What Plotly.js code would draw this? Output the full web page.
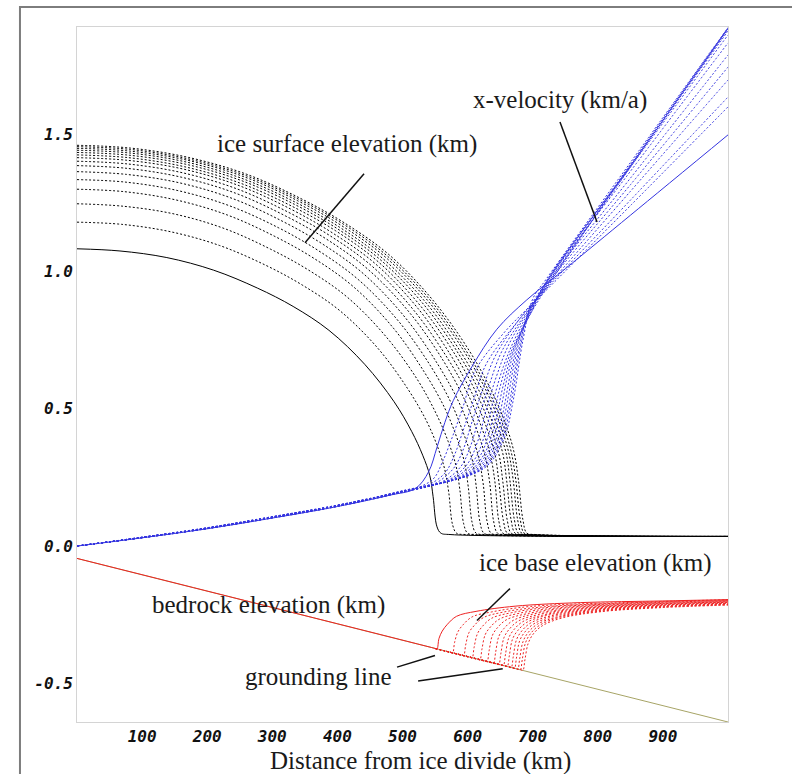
<!DOCTYPE html>
<html>
<head>
<meta charset="utf-8">
<script src="https://cdn.plot.ly/plotly-3.0.1.min.js"></script>
<style>html,body{margin:0;padding:0;background:#fff;}#chart{width:792px;height:774px;}</style>
</head>
<body>
<div id="chart"></div>
<script>
// ---- data ----
const xTickVals = [100, 200, 300, 400, 500, 600, 700, 800, 900];
const yTickVals = [-0.5, 0, 0.5, 1.0, 1.5];
const yTickText = ['-0.5', '0.0', '0.5', '1.0', '1.5'];

// ice surface elevation (km), one profile per time step (first = solid)
const surfaceX = [
 [0,66,138,210,277,332,387,442,487,514,531,542,547,553,559,573,1000],
 [0,69,144,219,289,346,404,462,508,537,554,565,571,577,583,597,1000],
 [0,71,149,226,297,356,416,475,523,552,570,582,588,594,600,614,1000],
 [0,73,152,231,304,364,425,486,534,565,583,595,601,607,613,627,1000],
 [0,74,155,235,310,371,433,495,545,576,594,607,613,619,625,639,1000],
 [0,76,158,239,315,378,441,504,554,586,605,617,624,630,636,650,1000],
 [0,77,160,243,320,384,448,512,563,595,614,627,634,640,646,660,1000],
 [0,78,162,246,324,389,454,518,570,603,622,635,642,648,654,668,1000],
 [0,79,164,249,328,393,459,524,576,609,629,642,648,655,661,675,1000],
 [0,79,165,251,331,397,463,529,582,615,635,648,654,661,667,681,1000],
 [0,80,167,253,334,400,467,534,587,620,640,654,660,667,673,687,1000],
 [0,81,168,255,336,403,470,538,591,625,645,659,665,672,678,692,1000],
 [0,81,169,257,339,406,474,542,596,630,650,663,670,677,683,697,1000],
 [0,82,170,259,341,409,477,545,599,633,654,667,674,681,687,701,1000],
 [0,82,171,260,343,411,480,548,603,637,658,671,678,685,691,705,1000]
];
const surfaceY = [
 [1.083,1.075,1.051,1.005,0.940,0.873,0.786,0.662,0.526,0.418,0.331,0.256,0.180,0.070,0.047,0.042,0.035],
 [1.180,1.172,1.145,1.095,1.024,0.951,0.857,0.721,0.573,0.455,0.361,0.278,0.196,0.077,0.047,0.042,0.035],
 [1.247,1.238,1.210,1.157,1.082,1.005,0.905,0.762,0.606,0.481,0.382,0.294,0.207,0.081,0.047,0.042,0.035],
 [1.300,1.291,1.261,1.206,1.128,1.048,0.944,0.794,0.632,0.502,0.398,0.307,0.216,0.085,0.047,0.042,0.035],
 [1.335,1.326,1.295,1.239,1.159,1.076,0.969,0.816,0.649,0.515,0.409,0.315,0.222,0.087,0.047,0.042,0.035],
 [1.364,1.354,1.323,1.266,1.184,1.099,0.990,0.833,0.663,0.527,0.417,0.322,0.226,0.089,0.047,0.042,0.035],
 [1.386,1.376,1.344,1.286,1.203,1.117,1.006,0.847,0.674,0.535,0.424,0.327,0.230,0.090,0.047,0.042,0.035],
 [1.402,1.392,1.360,1.301,1.217,1.130,1.018,0.857,0.681,0.541,0.429,0.331,0.233,0.091,0.047,0.042,0.035],
 [1.415,1.405,1.373,1.313,1.228,1.140,1.027,0.865,0.688,0.546,0.433,0.334,0.235,0.092,0.047,0.042,0.035],
 [1.425,1.415,1.382,1.322,1.237,1.149,1.035,0.871,0.693,0.550,0.436,0.336,0.237,0.093,0.047,0.042,0.035],
 [1.434,1.424,1.391,1.331,1.245,1.156,1.041,0.876,0.697,0.554,0.439,0.338,0.238,0.093,0.047,0.042,0.035],
 [1.442,1.432,1.399,1.338,1.252,1.162,1.047,0.881,0.701,0.557,0.441,0.340,0.239,0.094,0.047,0.042,0.035],
 [1.449,1.439,1.406,1.345,1.258,1.168,1.052,0.885,0.704,0.559,0.443,0.342,0.241,0.094,0.047,0.042,0.035],
 [1.455,1.445,1.411,1.350,1.263,1.173,1.056,0.889,0.707,0.562,0.445,0.343,0.242,0.095,0.047,0.042,0.035],
 [1.460,1.450,1.416,1.355,1.267,1.177,1.060,0.892,0.710,0.564,0.447,0.345,0.242,0.095,0.047,0.042,0.035]
];

// x-velocity (km/a)
const velocityX = [
 [0,100,200,300,400,480,520,540,553,565,578,607,645,691,750,850,1000],
 [0,100,200,300,400,500,517,547,562,577,592,612,657,720,850,1000],
 [0,100,200,300,400,500,534,564,579,594,609,629,674,720,850,1000],
 [0,100,200,300,400,500,547,577,592,607,622,642,687,720,850,1000],
 [0,100,200,300,400,500,559,589,604,619,634,654,720,850,1000],
 [0,100,200,300,400,500,570,600,615,630,645,665,720,850,1000],
 [0,100,200,300,400,500,580,610,625,640,655,675,720,850,1000],
 [0,100,200,300,400,500,588,618,633,648,663,683,720,850,1000],
 [0,100,200,300,400,500,595,625,640,655,670,690,720,850,1000],
 [0,100,200,300,400,500,601,631,646,661,676,696,720,850,1000],
 [0,100,200,300,400,500,607,637,652,667,682,702,850,1000],
 [0,100,200,300,400,500,612,642,657,672,687,707,850,1000],
 [0,100,200,300,400,500,617,647,662,677,692,712,850,1000],
 [0,100,200,300,400,500,621,651,666,681,696,716,850,1000],
 [0,100,200,300,400,500,625,655,670,685,700,720,850,1000]
];
const velocityY = [
 [0,0.030,0.063,0.102,0.144,0.185,0.210,0.270,0.360,0.450,0.530,0.655,0.790,0.897,1.010,1.205,1.498],
 [0,0.030,0.063,0.102,0.144,0.196,0.207,0.244,0.310,0.400,0.500,0.640,0.780,0.930,1.240,1.600],
 [0,0.030,0.064,0.103,0.145,0.197,0.216,0.263,0.327,0.427,0.531,0.665,0.810,0.935,1.260,1.636],
 [0,0.030,0.064,0.103,0.145,0.197,0.224,0.279,0.344,0.454,0.562,0.690,0.850,0.940,1.292,1.698],
 [0,0.031,0.064,0.104,0.146,0.198,0.232,0.288,0.361,0.481,0.592,0.716,0.945,1.316,1.745],
 [0,0.031,0.064,0.104,0.146,0.198,0.240,0.300,0.378,0.508,0.623,0.742,0.950,1.340,1.789],
 [0,0.031,0.065,0.104,0.146,0.198,0.248,0.313,0.395,0.535,0.654,0.767,0.955,1.365,1.833],
 [0,0.031,0.065,0.105,0.147,0.199,0.253,0.324,0.412,0.562,0.685,0.792,0.960,1.380,1.862],
 [0,0.031,0.065,0.105,0.147,0.199,0.258,0.333,0.428,0.588,0.715,0.818,0.960,1.385,1.876],
 [0,0.032,0.065,0.105,0.147,0.199,0.263,0.343,0.445,0.615,0.746,0.843,0.955,1.385,1.881],
 [0,0.032,0.066,0.106,0.148,0.200,0.268,0.353,0.462,0.642,0.777,0.868,1.386,1.884],
 [0,0.032,0.066,0.106,0.148,0.200,0.272,0.361,0.479,0.669,0.808,0.894,1.380,1.886],
 [0,0.032,0.066,0.106,0.148,0.200,0.276,0.371,0.496,0.696,0.838,0.919,1.383,1.887],
 [0,0.032,0.066,0.107,0.149,0.201,0.280,0.378,0.513,0.723,0.869,0.945,1.390,1.888],
 [0,0.032,0.067,0.107,0.149,0.201,0.283,0.387,0.530,0.750,0.900,0.970,1.397,1.889]
];

// ice base elevation (km)
const baseX = [
 [0,550,553,556,561,569,583,613,673,773,900,1000],
 [550,574,577,580,585,593,607,637,697,900,1000],
 [550,591,594,597,602,610,624,654,714,900,1000],
 [550,604,607,610,615,623,637,667,727,900,1000],
 [550,616,619,622,627,635,649,679,739,900,1000],
 [550,627,630,633,638,646,660,690,750,900,1000],
 [550,637,640,643,648,656,670,700,760,900,1000],
 [550,645,648,651,656,664,678,708,768,900,1000],
 [550,652,655,658,663,671,685,715,775,900,1000],
 [550,658,661,664,669,677,691,721,781,900,1000],
 [550,664,667,670,675,683,697,727,787,900,1000],
 [550,669,672,675,680,688,702,732,792,900,1000],
 [550,674,677,680,685,693,707,737,797,900,1000],
 [550,678,681,684,689,697,711,741,801,900,1000],
 [550,682,685,688,693,701,715,745,805,900,1000]
];
const baseY = [
 [-0.045,-0.373,-0.375,-0.337,-0.310,-0.285,-0.256,-0.238,-0.219,-0.206,-0.200,-0.195],
 [-0.373,-0.387,-0.389,-0.351,-0.313,-0.287,-0.258,-0.240,-0.220,-0.202,-0.196],
 [-0.373,-0.397,-0.399,-0.361,-0.316,-0.290,-0.261,-0.241,-0.222,-0.203,-0.198],
 [-0.373,-0.405,-0.407,-0.369,-0.320,-0.292,-0.263,-0.243,-0.223,-0.205,-0.199],
 [-0.373,-0.412,-0.414,-0.376,-0.323,-0.295,-0.266,-0.245,-0.225,-0.207,-0.201],
 [-0.373,-0.419,-0.420,-0.382,-0.326,-0.297,-0.268,-0.247,-0.226,-0.209,-0.202],
 [-0.373,-0.425,-0.426,-0.388,-0.329,-0.300,-0.271,-0.248,-0.228,-0.210,-0.204],
 [-0.373,-0.429,-0.431,-0.393,-0.333,-0.303,-0.273,-0.250,-0.229,-0.212,-0.205],
 [-0.373,-0.434,-0.435,-0.397,-0.336,-0.305,-0.275,-0.252,-0.230,-0.214,-0.206],
 [-0.373,-0.437,-0.439,-0.401,-0.339,-0.308,-0.278,-0.253,-0.232,-0.215,-0.208],
 [-0.373,-0.441,-0.443,-0.405,-0.342,-0.310,-0.280,-0.255,-0.233,-0.217,-0.209],
 [-0.373,-0.444,-0.446,-0.408,-0.345,-0.313,-0.283,-0.257,-0.235,-0.219,-0.211],
 [-0.373,-0.447,-0.449,-0.411,-0.349,-0.315,-0.285,-0.259,-0.236,-0.221,-0.212],
 [-0.373,-0.449,-0.451,-0.413,-0.352,-0.318,-0.288,-0.260,-0.238,-0.222,-0.214],
 [-0.373,-0.451,-0.453,-0.415,-0.355,-0.320,-0.290,-0.262,-0.239,-0.224,-0.215]
];

// bedrock elevation (km)
const bedrockX = [0, 1000];
const bedrockY = [-0.045, -0.641];

// ---- traces ----
const traces = [];
function family(xs, ys, color) {
  for (let k = 0; k < xs.length; k++) {
    traces.push({
      x: xs[k], y: ys[k], type: 'scatter', mode: 'lines', hoverinfo: 'skip', showlegend: false,
      line: {color: color, width: 1, shape: 'spline', smoothing: 1, dash: k === 0 ? 'solid' : '2px,2px'}
    });
  }
}
family(surfaceX, surfaceY, '#000000');
traces.push({x: bedrockX, y: bedrockY, type: 'scatter', mode: 'lines', hoverinfo: 'skip', showlegend: false,
  line: {color: '#a7a466', width: 1}});
family(baseX, baseY, '#ee2222');
family(velocityX, velocityY, '#3434e0');

const serif = {family: 'Liberation Serif, Times New Roman, serif', size: 25, color: '#1a1a1a'};
const tickFont = {family: 'DejaVu Sans Mono, monospace', size: 16, color: '#111', weight: 'bold', style: 'italic'};

const layout = {
  width: 792, height: 774,
  margin: {l: 77, r: 64, t: 27, b: 52},
  paper_bgcolor: '#ffffff', plot_bgcolor: '#ffffff',
  showlegend: false,
  xaxis: {range: [0, 1000], tickvals: xTickVals, ticks: '', showgrid: false, zeroline: false,
    showline: true, mirror: true, linecolor: '#d4d4d4', linewidth: 1, tickfont: tickFont},
  yaxis: {range: [-0.641, 1.891], tickvals: yTickVals, ticktext: yTickText, ticks: '', showgrid: false, zeroline: false,
    showline: true, mirror: true, linecolor: '#d4d4d4', linewidth: 1, tickfont: tickFont},
  shapes: [
    {type: 'rect', xref: 'paper', yref: 'paper', x0: -0.0876, x1: 1.3, y0: -0.3, y1: 1.0288,
      line: {color: '#7d7d7d', width: 2}, fillcolor: 'rgba(0,0,0,0)'},
    {type: 'line', x0: 440.9, y0: 1.356, x1: 350.2, y1: 1.105, line: {color: '#111', width: 1.5}},
    {type: 'line', x0: 741.9, y0: 1.545, x1: 798.8, y1: 1.181, line: {color: '#111', width: 1.5}},
    {type: 'line', x0: 665.1, y0: -0.155, x1: 614.4, y1: -0.271, line: {color: '#111', width: 1.5}},
    {type: 'line', x0: 491.6, y0: -0.441, x1: 549.9, y1: -0.399, line: {color: '#111', width: 1.5}},
    {type: 'line', x0: 524.0, y0: -0.492, x1: 654.0, y1: -0.447, line: {color: '#111', width: 1.5}}
  ],
  annotations: [
    {text: 'ice surface elevation (km)', x: 414.7, y: 1.465, showarrow: false, font: serif},
    {text: 'x-velocity (km/a)', x: 741.2, y: 1.625, showarrow: false, font: serif},
    {text: 'ice base elevation (km)', x: 795.7, y: -0.060, showarrow: false, font: serif},
    {text: 'bedrock elevation (km)', x: 294.2, y: -0.213, showarrow: false, font: serif},
    {text: 'grounding line', x: 371, y: -0.475, showarrow: false, font: serif},
    {text: 'Distance from ice divide (km)', xref: 'paper', yref: 'paper', x: 0.5284, y: -0.0561,
      yanchor: 'middle', showarrow: false, font: serif}
  ]
};

Plotly.newPlot('chart', traces, layout, {displayModeBar: false, staticPlot: true});
</script>
</body>
</html>
